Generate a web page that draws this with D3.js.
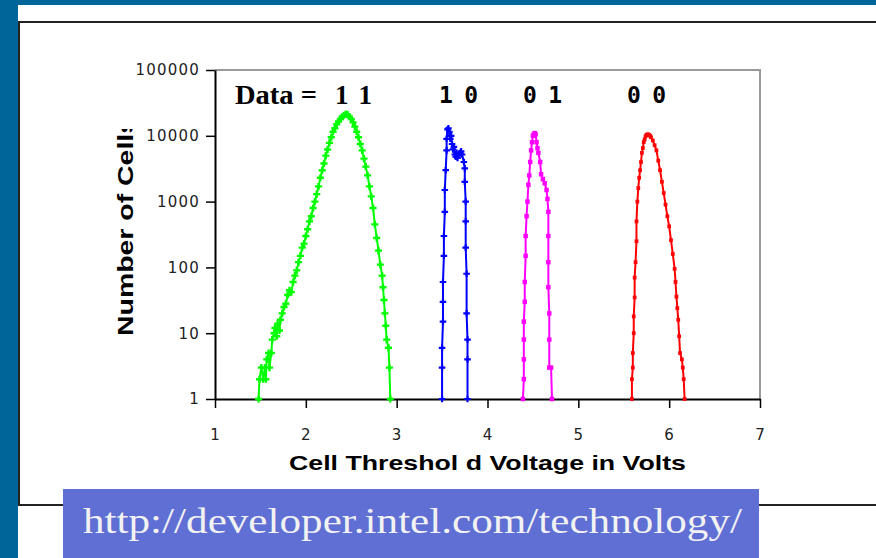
<!DOCTYPE html>
<html>
<head>
<meta charset="utf-8">
<script src="https://cdn.jsdelivr.net/npm/d3@7"></script>
<style>
  html, body { margin: 0; padding: 0; background: #006699; }
  svg { display: block; }
</style>
</head>
<body>
<div id="chart"></div>
<script>
// Cell threshold voltage (V) vs number of cells, one array per stored data state
const data11 = [
  [1.48,1],[1.49,2],[1.51,3],[1.53,2],[1.55,3],[1.56,2],[1.57,4],[1.59,5],[1.60,3],[1.62,5],
  [1.63,8],[1.65,10],[1.66,12],[1.68,9],[1.69,14],[1.71,11],[1.72,16],[1.74,20],[1.76,25],[1.78,28],
  [1.80,38],[1.82,45],[1.84,42],[1.86,60],[1.88,75],[1.90,90],[1.92,120],[1.94,150],[1.96,200],[1.98,230],
  [2.00,300],[2.02,380],[2.04,500],[2.06,600],[2.08,800],[2.10,1000],[2.12,1300],[2.14,1700],[2.16,2300],[2.18,3000],
  [2.20,3800],[2.22,5000],[2.24,6200],[2.26,7800],[2.28,9500],[2.30,11500],[2.32,13000],[2.34,15000],[2.36,16500],[2.38,18000],
  [2.40,19500],[2.42,20500],[2.44,21500],[2.46,21000],[2.48,19500],[2.50,18000],[2.52,16000],[2.54,13800],[2.56,11500],[2.58,9500],
  [2.60,7500],[2.62,6000],[2.64,4500],[2.66,3400],[2.68,2500],[2.70,1700],[2.72,1200],[2.74,800],[2.76,450],[2.78,280],
  [2.80,180],[2.82,110],[2.84,75],[2.85,50],[2.86,32],[2.87,20],[2.88,13],[2.89,8],[2.91,6],[2.92,3],[2.93,1]
];
const data10 = [
  [3.50,1],[3.50,3],[3.50,6],[3.51,15],[3.51,30],[3.51,60],[3.52,150],[3.52,300],[3.53,700],[3.53,1500],
  [3.54,3000],[3.55,6000],[3.55,9000],[3.56,12500],[3.57,13000],[3.58,11500],[3.59,9000],[3.60,10000],[3.61,7500],[3.62,6200],
  [3.63,6800],[3.64,5200],[3.65,4800],[3.66,5500],[3.67,4600],[3.68,5000],[3.70,5500],[3.71,5800],[3.72,5200],[3.74,4000],
  [3.75,3200],[3.75,2000],[3.76,1000],[3.76,500],[3.76,200],[3.77,80],[3.77,20],[3.78,8],[3.78,4],[3.78,1]
];
const data01 = [
  [4.39,1],[4.40,2],[4.40,4],[4.40,8],[4.40,15],[4.41,30],[4.41,60],[4.42,150],[4.42,300],[4.43,600],
  [4.44,1000],[4.45,1800],[4.46,2500],[4.47,4000],[4.48,6000],[4.49,8000],[4.50,10000],[4.51,10500],[4.52,11000],[4.53,10500],
  [4.54,8000],[4.55,6500],[4.56,5500],[4.58,4000],[4.59,2600],[4.61,2200],[4.63,1900],[4.65,1500],[4.66,1100],[4.67,700],
  [4.67,300],[4.67,120],[4.67,50],[4.68,20],[4.68,8],[4.68,3],[4.70,3],[4.71,1]
];
const data00 = [
  [5.59,1],[5.59,2],[5.60,3],[5.60,5],[5.61,10],[5.61,18],[5.62,35],[5.62,70],[5.63,120],[5.64,250],
  [5.64,500],[5.65,1000],[5.66,1600],[5.67,2300],[5.68,3000],[5.69,4000],[5.70,5500],[5.71,6500],[5.72,8000],[5.73,8800],
  [5.74,9800],[5.75,10300],[5.76,10500],[5.77,10500],[5.78,10300],[5.79,10000],[5.80,9500],[5.82,8500],[5.84,7200],[5.86,6000],
  [5.88,4200],[5.90,3000],[5.92,2000],[5.94,1350],[5.96,900],[5.98,600],[6.00,420],[6.02,260],[6.04,160],[6.06,95],
  [6.07,60],[6.08,36],[6.09,24],[6.10,16],[6.11,9],[6.12,5],[6.14,4],[6.15,3],[6.16,2],[6.17,1]
];

const stateLabels = ["1 1", "1 0", "0 1", "0 0"];
const xTicks = [1, 2, 3, 4, 5, 6, 7];
const yTicks = [1, 10, 100, 1000, 10000, 100000];
const xTitle = "Cell Threshol d Voltage in Volts";
const yTitle = "Number of Cells";
const sourceUrl = "http://developer.intel.com/technology/";

const W = 876, H = 558;

const svg = d3.select("#chart").append("svg")
    .attr("width", W)
    .attr("height", H);

// slide background: blue strip on the left and top, white panel
svg.append("rect").attr("width", W).attr("height", H).attr("fill", "#006699");
svg.append("rect").attr("x", 18).attr("y", 5).attr("width", W - 18).attr("height", H - 5).attr("fill", "#fff");

// picture frame
svg.append("path")
    .attr("d", `M${W},22 H19 V505 H${W}`)
    .attr("fill", "none")
    .attr("stroke", "#222")
    .attr("stroke-width", 2);

const x = d3.scaleLinear().domain([1, 7]).range([215, 760]);
const y = d3.scaleLog().domain([1, 100000]).range([399, 70]);

// gray top/right border of plot area
svg.append("path")
    .attr("d", `M${x(1)},${y(100000)} H${x(7)} V${y(1)}`)
    .attr("fill", "none")
    .attr("stroke", "#9a9a9a")
    .attr("stroke-width", 2);

const tickFont = g => g.selectAll("text")
    .attr("font-family", "DejaVu Sans, sans-serif")
    .attr("font-size", 15)
    .attr("letter-spacing", "1.2px")
    .attr("fill", "#222");

svg.append("g")
    .attr("transform", `translate(${x(1)},0)`)
    .call(d3.axisLeft(y).tickValues(yTicks).tickFormat(d3.format("d")).tickSize(9).tickSizeOuter(0).tickPadding(6))
    .call(g => g.select(".domain").attr("stroke", "#000").attr("stroke-width", 2))
    .call(g => g.selectAll(".tick line").attr("stroke", "#000").attr("stroke-width", 1.5))
    .call(tickFont);

svg.append("g")
    .attr("transform", `translate(0,${y(1)})`)
    .call(d3.axisBottom(x).tickValues(xTicks).tickFormat(d3.format("d")).tickSize(9).tickSizeOuter(0).tickPadding(21))
    .call(g => g.select(".domain").attr("stroke", "#000").attr("stroke-width", 2))
    .call(g => g.selectAll(".tick line").attr("stroke", "#000").attr("stroke-width", 1.5))
    .call(tickFont);

// series
const series = [
  {values: data11, color: "#00ff00", symbol: d3.symbolCross, size: 28},
  {values: data10, color: "#0000ff", symbol: d3.symbolCross, size: 24},
  {values: data01, color: "#ff00ff", symbol: d3.symbolSquare, size: 20},
  {values: data00, color: "#ff0000", symbol: d3.symbolSquare, size: 14}
];

const line = d3.line().x(d => x(d[0])).y(d => y(d[1]));

series.forEach(s => {
    svg.append("path")
        .datum(s.values)
        .attr("d", line)
        .attr("fill", "none")
        .attr("stroke", s.color)
        .attr("stroke-width", 2);

    svg.append("g").selectAll("path")
        .data(s.values)
        .join("path")
        .attr("transform", d => `translate(${x(d[0])},${y(d[1])})`)
        .attr("d", d3.symbol().type(s.symbol).size(s.size))
        .attr("fill", s.color);
});

// state labels
svg.append("text")
    .attr("x", 235).attr("y", 104)
    .attr("font-family", "Liberation Serif, Times New Roman, serif")
    .attr("font-weight", "bold")
    .attr("font-size", 27)
    .attr("textLength", 82)
    .attr("lengthAdjust", "spacingAndGlyphs")
    .text("Data =");

svg.append("text")
    .attr("x", 335).attr("y", 104)
    .attr("font-family", "Liberation Serif, Times New Roman, serif")
    .attr("font-weight", "bold")
    .attr("font-size", 27)
    .attr("textLength", 37)
    .text(stateLabels[0]);

const labelX = [439, 523, 627];
stateLabels.slice(1).forEach((t, i) => {
    svg.append("text")
        .attr("x", labelX[i]).attr("y", 103)
        .attr("font-family", "DejaVu Sans Mono, monospace")
        .attr("font-weight", "bold")
        .attr("font-size", 23)
        .attr("textLength", 39)
        .text(t);
});

// axis titles
svg.append("text")
    .attr("x", 289).attr("y", 470)
    .attr("font-family", "Liberation Sans, Arial, sans-serif")
    .attr("font-weight", "bold")
    .attr("font-size", 21)
    .attr("textLength", 397)
    .attr("lengthAdjust", "spacingAndGlyphs")
    .text(xTitle);

svg.append("clipPath").attr("id", "yclip")
    .append("rect").attr("x", 100).attr("y", 129).attr("width", 50).attr("height", 240);

svg.append("g").attr("clip-path", "url(#yclip)")
    .append("text")
    .attr("transform", "translate(133,336) rotate(-90)")
    .attr("font-family", "Liberation Sans, Arial, sans-serif")
    .attr("font-weight", "bold")
    .attr("font-size", 22)
    .attr("textLength", 218)
    .attr("lengthAdjust", "spacingAndGlyphs")
    .text(yTitle);

// source banner
svg.append("rect")
    .attr("x", 63).attr("y", 489).attr("width", 696).attr("height", 69)
    .attr("fill", "#5f6fd4");

svg.append("text")
    .attr("x", 83).attr("y", 533)
    .attr("font-family", "Liberation Serif, Times New Roman, serif")
    .attr("font-size", 36)
    .attr("textLength", 659)
    .attr("lengthAdjust", "spacingAndGlyphs")
    .attr("fill", "#f2f2f2")
    .text(sourceUrl);
</script>
</body>
</html>
